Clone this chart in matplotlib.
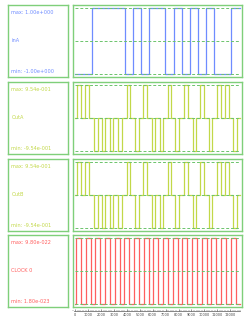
import numpy as np
import matplotlib
matplotlib.use("Agg")
from matplotlib import pyplot as plt
from matplotlib.ticker import MultipleLocator

# signal data (time units)
t_end = 12800
ina_start = -1.0
ina_edges = [1295, 3829, 4450, 5070, 5736, 6977, 7628, 8271, 8915, 9535, 10155, 10775, 12093]

out_pulse_start = [155, 775, 1473, 2070, 2690, 3333, 3984, 4651, 5271, 5922,
                   6543, 7163, 7752, 8450, 9101, 9690, 10341, 11008, 11628, 12248]
out_pulse_sign = [1, 1, -1, -1, -1, -1, 1, -1, 1, -1,
                  -1, 1, -1, 1, -1, 1, -1, 1, 1, -1]
out_pulse_width = 270
out_amp = 0.954

clk_rise = [55, 805, 1555, 2305, 3055, 3805, 4555, 5305, 6055, 6805,
            7555, 8305, 9055, 9805, 10555, 11305, 12055]
clk_width = 375
clk_min, clk_max = 1.80e-23, 9.80e-22

names = ["inA", "OutA", "OutB", "CLOCK 0"]
max_labels = ["max: 1.00e+000", "max: 9.54e-001", "max: 9.54e-001", "max: 9.80e-022"]
min_labels = ["min: -1.00e+000", "min: -9.54e-001", "min: -9.54e-001", "min: 1.80e-023"]
colors = ["#6f8cff", "#c2d848", "#c2d848", "#ff5f5f"]

W, H = 249, 323
box_green = "#7fcf7a"
dash_green = "#6cc46c"


def px(x, y, w, h):
    return [x / W, 1 - (y + h) / H, w / W, h / H]


def digital(start, edges):
    t = [0]
    v = [start]
    cur = start
    for e in edges:
        t.append(e)
        v.append(cur)
        cur = -cur
        t.append(e)
        v.append(cur)
    t.append(t_end)
    v.append(cur)
    return t, v


def pulses(starts, signs, width, amp, base=0.0):
    t = [0]
    v = [base]
    for s, sg in zip(starts, signs):
        t += [s, s, s + width, s + width]
        v += [base, base + sg * amp, base + sg * amp, base]
    t.append(t_end)
    v.append(base)
    return t, v


fig = plt.figure(figsize=(W / 100, H / 100), dpi=100)

sig_ina = digital(ina_start, ina_edges)
sig_a = pulses(out_pulse_start, out_pulse_sign, out_pulse_width, out_amp)
sig_b = pulses(out_pulse_start, out_pulse_sign, out_pulse_width, out_amp)
clk_t = [0]
clk_v = [clk_min]
for r in clk_rise:
    clk_t += [r, r, r + clk_width, r + clk_width]
    clk_v += [clk_min, clk_max, clk_max, clk_min]
clk_t.append(t_end)
clk_v.append(clk_min)

signals = [sig_ina, sig_a, sig_b, (clk_t, clk_v)]
ranges = [(-1.0, 1.0), (-out_amp, out_amp), (-out_amp, out_amp), (clk_min, clk_max)]
tops = [5, 82, 159, 235]
ph = 72

for i in range(4):
    top = tops[i]
    # label box
    lax = fig.add_axes(px(8.3, top, 60, ph))
    lax.set_xticks([])
    lax.set_yticks([])
    for s in lax.spines.values():
        s.set_color(box_green)
        s.set_linewidth(1.0)
    lax.text(0.05, 0.9, max_labels[i], color=colors[i], fontsize=3.6,
             transform=lax.transAxes, va="center", ha="left")
    lax.text(0.05, 0.5, names[i], color=colors[i], fontsize=3.6,
             transform=lax.transAxes, va="center", ha="left")
    lax.text(0.05, 0.07, min_labels[i], color=colors[i], fontsize=3.6,
             transform=lax.transAxes, va="center", ha="left")

    # signal box
    ax = fig.add_axes(px(72.7, top, 168.8, ph))
    lo, hi = ranges[i]
    pad = (hi - lo) * 0.045
    ax.set_ylim(lo - pad, hi + pad)
    ax.set_xlim(-200, 12880)
    ax.set_xticks([])
    ax.set_yticks([])
    for s in ax.spines.values():
        s.set_color(box_green)
        s.set_linewidth(1.0)
    t, v = signals[i]
    ax.plot(t, v, color=colors[i], lw=0.9)
    mid = (lo + hi) / 2
    for yv in (lo, mid, hi):
        ax.plot([0, 12750], [yv, yv], color=dash_green, lw=0.7,
                dashes=(3, 2))

# time axis
tax = fig.add_axes(px(72.7, 310.5, 168.8, 0.01))
tax.set_xlim(-200, 12880)
tax.set_yticks([])
for k in ["left", "right", "top"]:
    tax.spines[k].set_visible(False)
tax.spines["bottom"].set_color("#555555")
tax.spines["bottom"].set_linewidth(0.5)
tax.spines["bottom"].set_bounds(-100, 12800)
tax.xaxis.set_major_locator(MultipleLocator(1000))
tax.xaxis.set_minor_locator(MultipleLocator(200))
tax.tick_params(axis="x", which="major", length=1.5, width=0.4, labelsize=2.5,
                pad=1.5, colors="#444444", direction="in")
tax.tick_params(axis="x", which="minor", length=1.0, width=0.3, direction="in",
                colors="#444444")

fig.savefig("out.png", dpi=100)
